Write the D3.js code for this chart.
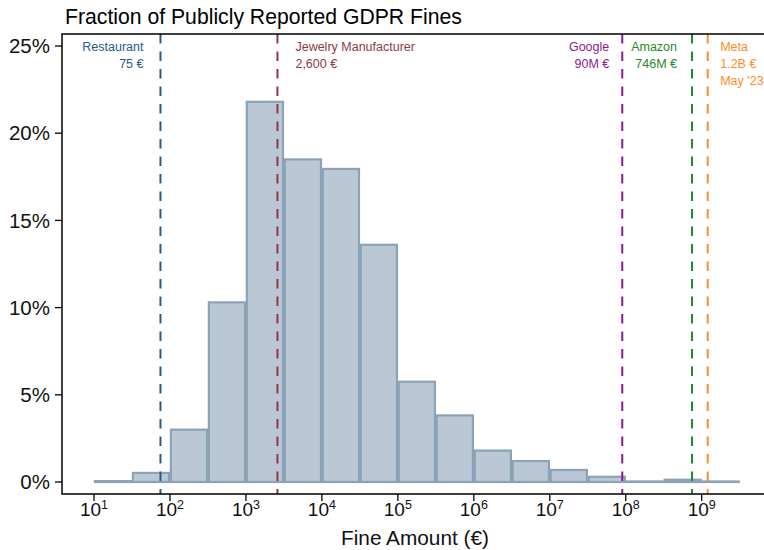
<!DOCTYPE html>
<html>
<head>
<meta charset="utf-8">
<script src="https://cdn.jsdelivr.net/npm/d3@7"></script>
<style>
  html, body { margin: 0; padding: 0; background: #fff; }
  svg { display: block; font-family: "Liberation Sans", Arial, Helvetica, sans-serif; }
</style>
</head>
<body>
<svg id="chart" width="764" height="550"></svg>
<script>
// Histogram bins: lower edge of each bin as a power of ten (each bin spans half a decade)
const binLowExp = [1, 1.5, 2, 2.5, 3, 3.5, 4, 4.5, 5, 5.5, 6, 6.5, 7, 7.5, 8, 8.5, 9];
const binWidthExp = 0.5;
// Share of publicly reported fines falling in each bin (percent)
const binShare = [0.05, 0.52, 3.0, 10.3, 21.8, 18.5, 17.95, 13.6, 5.75, 3.82, 1.8, 1.2, 0.69, 0.3, 0.03, 0.13, 0.03];

// Reference fines marked with dashed lines
const markerValues = [75, 2600, 90e6, 746e6, 1.2e9];
const markerLabels = [
  ["Restaurant", "75 €"],
  ["Jewelry Manufacturer", "2,600 €"],
  ["Google", "90M €"],
  ["Amazon", "746M €"],
  ["Meta", "1.2B €", "May '23"]
];
const markerColors = ["#2b5a87", "#8c3a43", "#8e1a8e", "#1f8a24", "#ff8c26"];
const markerSide = ["left", "right", "left", "left", "right"];

// Axis ticks
const xTickExp = [1, 2, 3, 4, 5, 6, 7, 8, 9];
const yTicks = [0, 5, 10, 15, 20, 25];

const title = "Fraction of Publicly Reported GDPR Fines";
const xTitle = "Fine Amount (€)";

const svg = d3.select("#chart");

// Plot frame
const frame = { left: 62, right: 772, top: 34, bottom: 494 };
// Horizontal gap between each dashed line and its label
const labelGap = [17, 18, 13, 15, 12.5];

const x = d3.scaleLog().domain([1e1, 1e9]).range([94, 701.7]);
const y = d3.scaleLinear().domain([0, 25]).range([482, 46]);

const bins = binLowExp.map((e, i) => ({ lo: Math.pow(10, e), hi: Math.pow(10, e + binWidthExp), v: binShare[i] }));

// Bars
svg.append("g")
  .selectAll("rect")
  .data(bins)
  .join("rect")
  .attr("x", d => x(d.lo) + 0.9)
  .attr("width", d => x(d.hi) - x(d.lo) - 1.8)
  .attr("y", d => y(d.v))
  .attr("height", d => y(0) - y(d.v))
  .attr("fill", "#b9c8d4")
  .attr("stroke", "#8ca2b7")
  .attr("stroke-width", 2.2);

// Reference lines and their labels
const markers = svg.append("g");
markerValues.forEach((v, i) => {
  const px = x(v);
  markers.append("line")
    .attr("x1", px).attr("x2", px)
    .attr("y1", frame.top).attr("y2", frame.bottom)
    .attr("stroke", markerColors[i])
    .attr("stroke-width", 2)
    .attr("stroke-dasharray", "9.5,8");
  const left = markerSide[i] === "left";
  const t = markers.append("text")
    .attr("fill", markerColors[i])
    .attr("font-size", 12.5)
    .attr("text-anchor", left ? "end" : "start");
  markerLabels[i].forEach((s, j) => {
    t.append("tspan")
      .attr("x", left ? px - labelGap[i] : px + labelGap[i])
      .attr("y", 51 + j * 17)
      .text(s);
  });
});

// Frame
const axisColor = "#000";
svg.append("path")
  .attr("d", `M${frame.right},${frame.top}H${frame.left}V${frame.bottom}H${frame.right}`)
  .attr("fill", "none")
  .attr("stroke", axisColor)
  .attr("stroke-width", 1.5);

// Y axis
const yAxis = svg.append("g");
yTicks.forEach(t => {
  yAxis.append("line")
    .attr("x1", frame.left - 7).attr("x2", frame.left)
    .attr("y1", y(t)).attr("y2", y(t))
    .attr("stroke", axisColor).attr("stroke-width", 1.3);
  yAxis.append("text")
    .attr("x", 50).attr("y", y(t))
    .attr("dy", "0.35em")
    .attr("text-anchor", "end")
    .attr("font-size", 20.5)
    .attr("fill", "#111")
    .text(t + "%");
});

// X axis (log scale, powers of ten)
const xAxis = svg.append("g");
xTickExp.forEach(e => {
  const px = x(Math.pow(10, e));
  xAxis.append("line")
    .attr("x1", px).attr("x2", px)
    .attr("y1", frame.bottom).attr("y2", frame.bottom + 7)
    .attr("stroke", axisColor).attr("stroke-width", 1.3);
  const t = xAxis.append("text")
    .attr("x", px).attr("y", 516)
    .attr("text-anchor", "middle")
    .attr("fill", "#111")
    .attr("font-size", 19);
  t.append("tspan").text("10");
  t.append("tspan").attr("font-size", 12.5).attr("dy", -7).text(e);
});

// Titles
svg.append("text")
  .attr("x", 65).attr("y", 24)
  .attr("font-size", 21.2)
  .attr("fill", "#000")
  .text(title);

svg.append("text")
  .attr("x", 415).attr("y", 545)
  .attr("text-anchor", "middle")
  .attr("font-size", 20.8)
  .attr("fill", "#111")
  .text(xTitle);
</script>
</body>
</html>
